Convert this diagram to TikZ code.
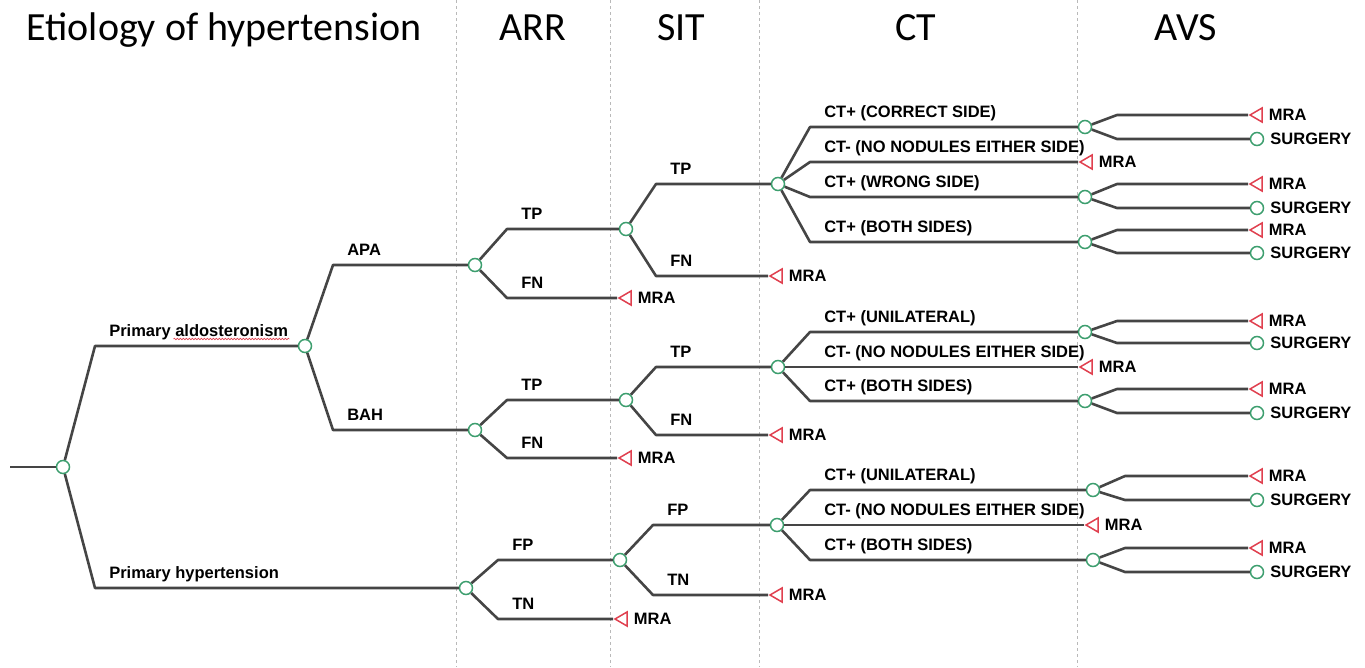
\documentclass[tikz,border=0pt]{standalone}
\usepackage{fontspec}
\setmainfont{Liberation Sans}
\newfontfamily\headfont{Carlito}
\usetikzlibrary{calc,positioning,shapes.geometric,decorations.pathmorphing}
\definecolor{branchgray}{HTML}{454545}
\definecolor{chancegreen}{HTML}{3C9E6E}
\definecolor{termred}{HTML}{E0404F}
\tikzset{
  chance/.style={
    circle,
    draw=chancegreen,
    fill=white,
    line width=1.5pt,
    minimum size=13pt,
    inner sep=0pt
  },
  endtri/.style={
    isosceles triangle,
    isosceles triangle stretches,
    shape border rotate=180,
    draw=termred,
    fill=white,
    line width=1.5pt,
    minimum width=14pt,
    minimum height=12pt,
    inner sep=0pt
  },
  branch/.style={
    draw=branchgray,
    line width=2.6pt,
    line join=round
  },
  lbl/.style={
    anchor=base west,
    inner sep=0pt,
    xshift=13pt,
    yshift=10pt,
    font=\bfseries\fontsize{16.5}{16.5}\selectfont
  },
  leaftext/.style={
    inner sep=0pt,
    font=\bfseries\fontsize{16.5}{16.5}\selectfont
  },
  coltitle/.style={
    anchor=base,
    inner sep=0pt,
    font=\headfont\fontsize{40}{40}\selectfont
  },
  colsep/.style={
    draw=gray!55,
    dashed,
    line width=0.8pt
  }
}

\begin{document}
\begin{tikzpicture}[x=1pt,y=-1pt]
  \useasboundingbox (0,0) rectangle (1365,667);

  % column separators and titles
  \foreach \x in {456,610,759,1077}
    \draw[colsep] (\x,0) -- (\x,667);
  \node[coltitle] (ttlhyp) at (224,40) {Etiology of hypertension};
  \node[coltitle] (ttlarr) at (533,40) {ARR};
  \node[coltitle] (ttlsit) at (681,40) {SIT};
  \node[coltitle] (ttlct) at (916,40) {CT};
  \node[coltitle] (ttlavs) at (1186,40) {AVS};

  % etiology
  \coordinate (start) at (10,467);
  \node[chance] (root) at (63,467) {};
  \node[chance] (pa) at (305,346) {};
  \node[chance] (ph) at (466,588) {};
  \node[chance] (apa) at (475,265) {};
  \node[chance] (bah) at (475,430) {};

  % ARR
  \node[chance] (apatp) at (626,229) {};
  \node[endtri] (apafn) at (627,298) {};
  \node[chance] (bahtp) at (626,400) {};
  \node[endtri] (bahfn) at (627,458) {};
  \node[chance] (phfp) at (620,560) {};
  \node[endtri] (phtn) at (623,619) {};

  % SIT
  \node[chance] (apact) at (778,184) {};
  \node[endtri] (apasitfn) at (778,276) {};
  \node[chance] (bahct) at (778,367) {};
  \node[endtri] (bahsitfn) at (778,435) {};
  \node[chance] (phct) at (777,525) {};
  \node[endtri] (phsittn) at (778,595) {};

  % CT
  \node[chance] (ca1) at (1085,127) {};
  \node[endtri] (ca2) at (1088,162) {};
  \node[chance] (ca3) at (1085,197) {};
  \node[chance] (ca4) at (1085,242) {};
  \node[chance] (cb1) at (1085,332) {};
  \node[endtri] (cb2) at (1088,367) {};
  \node[chance] (cb3) at (1085,401) {};
  \node[chance] (cc1) at (1093,490) {};
  \node[endtri] (cc2) at (1094,525) {};
  \node[chance] (cc3) at (1093,560) {};

  % AVS
  \node[endtri] (ca1m) at (1258,115) {};
  \node[chance] (ca1s) at (1257,139) {};
  \node[endtri] (ca3m) at (1258,184) {};
  \node[chance] (ca3s) at (1257,208) {};
  \node[endtri] (ca4m) at (1258,230) {};
  \node[chance] (ca4s) at (1257,253) {};
  \node[endtri] (cb1m) at (1258,321) {};
  \node[chance] (cb1s) at (1257,343) {};
  \node[endtri] (cb3m) at (1258,389) {};
  \node[chance] (cb3s) at (1257,413) {};
  \node[endtri] (cc1m) at (1258,476) {};
  \node[chance] (cc1s) at (1257,500) {};
  \node[endtri] (cc3m) at (1258,548) {};
  \node[chance] (cc3s) at (1257,572) {};

  % leaf texts
  \node[leaftext, right=6pt of apafn] (apafnt) {MRA};
  \node[leaftext, right=6pt of bahfn] (bahfnt) {MRA};
  \node[leaftext, right=6pt of phtn] (phtnt) {MRA};
  \node[leaftext, right=6pt of apasitfn] (apasitfnt) {MRA};
  \node[leaftext, right=6pt of bahsitfn] (bahsitfnt) {MRA};
  \node[leaftext, right=6pt of phsittn] (phsittnt) {MRA};
  \node[leaftext, right=6pt of ca2] (ca2t) {MRA};
  \node[leaftext, right=6pt of cb2] (cb2t) {MRA};
  \node[leaftext, right=6pt of cc2] (cc2t) {MRA};
  \node[leaftext, right=6pt of ca1m] (ca1mt) {MRA};
  \node[leaftext, right=6pt of ca1s] (ca1st) {SURGERY};
  \node[leaftext, right=6pt of ca3m] (ca3mt) {MRA};
  \node[leaftext, right=6pt of ca3s] (ca3st) {SURGERY};
  \node[leaftext, right=6pt of ca4m] (ca4mt) {MRA};
  \node[leaftext, right=6pt of ca4s] (ca4st) {SURGERY};
  \node[leaftext, right=6pt of cb1m] (cb1mt) {MRA};
  \node[leaftext, right=6pt of cb1s] (cb1st) {SURGERY};
  \node[leaftext, right=6pt of cb3m] (cb3mt) {MRA};
  \node[leaftext, right=6pt of cb3s] (cb3st) {SURGERY};
  \node[leaftext, right=6pt of cc1m] (cc1mt) {MRA};
  \node[leaftext, right=6pt of cc1s] (cc1st) {SURGERY};
  \node[leaftext, right=6pt of cc3m] (cc3mt) {MRA};
  \node[leaftext, right=6pt of cc3s] (cc3st) {SURGERY};

  % branches
  \draw[branch] (start) -- (root);
  \draw[branch] (root) -- ($(root|-pa)+(32,0)$) node[lbl] (palbl) {Primary aldosteronism} -- (pa);
  \draw[branch] (root) -- ($(root|-ph)+(32,0)$) node[lbl] (phlbl) {Primary hypertension} -- (ph);
  \draw[termred, line width=0.6pt, decorate, decoration={snake, amplitude=0.8pt, segment length=3pt}]
    ($(palbl.base east)+(-116,3)$) -- ($(palbl.base east)+(0,3)$);
  \draw[branch] (pa) -- ($(pa|-apa)+(28,0)$) node[lbl] {APA} -- (apa);
  \draw[branch] (pa) -- ($(pa|-bah)+(28,0)$) node[lbl] {BAH} -- (bah);

  \draw[branch] (apa) -- ($(apa|-apatp)+(32,0)$) node[lbl] {TP} -- (apatp);
  \draw[branch] (apa) -- ($(apa|-apafn)+(32,0)$) node[lbl] {FN} -- (apafn);
  \draw[branch] (bah) -- ($(bah|-bahtp)+(32,0)$) node[lbl] {TP} -- (bahtp);
  \draw[branch] (bah) -- ($(bah|-bahfn)+(32,0)$) node[lbl] {FN} -- (bahfn);
  \draw[branch] (ph) -- ($(ph|-phfp)+(32,0)$) node[lbl] {FP} -- (phfp);
  \draw[branch] (ph) -- ($(ph|-phtn)+(32,0)$) node[lbl] {TN} -- (phtn);

  \draw[branch] (apatp) -- ($(apatp|-apact)+(30,0)$) node[lbl] {TP} -- (apact);
  \draw[branch] (apatp) -- ($(apatp|-apasitfn)+(30,0)$) node[lbl] {FN} -- (apasitfn);
  \draw[branch] (bahtp) -- ($(bahtp|-bahct)+(30,0)$) node[lbl] {TP} -- (bahct);
  \draw[branch] (bahtp) -- ($(bahtp|-bahsitfn)+(30,0)$) node[lbl] {FN} -- (bahsitfn);
  \draw[branch] (phfp) -- ($(phfp|-phct)+(33,0)$) node[lbl] {FP} -- (phct);
  \draw[branch] (phfp) -- ($(phfp|-phsittn)+(33,0)$) node[lbl] {TN} -- (phsittn);

  \draw[branch] (apact) -- ($(apact|-ca1)+(32,0)$) node[lbl] {CT+ (CORRECT SIDE)} -- (ca1);
  \draw[branch] (apact) -- ($(apact|-ca2)+(32,0)$) node[lbl] {CT- (NO NODULES EITHER SIDE)} -- (ca2);
  \draw[branch] (apact) -- ($(apact|-ca3)+(32,0)$) node[lbl] {CT+ (WRONG SIDE)} -- (ca3);
  \draw[branch] (apact) -- ($(apact|-ca4)+(32,0)$) node[lbl] {CT+ (BOTH SIDES)} -- (ca4);
  \draw[branch] (bahct) -- ($(bahct|-cb1)+(32,0)$) node[lbl] {CT+ (UNILATERAL)} -- (cb1);
  \draw[branch] (bahct) -- ($(bahct|-cb2)+(32,0)$) node[lbl] {CT- (NO NODULES EITHER SIDE)} -- (cb2);
  \draw[branch] (bahct) -- ($(bahct|-cb3)+(32,0)$) node[lbl] {CT+ (BOTH SIDES)} -- (cb3);
  \draw[branch] (phct) -- ($(phct|-cc1)+(33,0)$) node[lbl] {CT+ (UNILATERAL)} -- (cc1);
  \draw[branch] (phct) -- ($(phct|-cc2)+(33,0)$) node[lbl] {CT- (NO NODULES EITHER SIDE)} -- (cc2);
  \draw[branch] (phct) -- ($(phct|-cc3)+(33,0)$) node[lbl] {CT+ (BOTH SIDES)} -- (cc3);

  \draw[branch] (ca1) -- ($(ca1|-ca1m)+(32,0)$) -- (ca1m);
  \draw[branch] (ca1) -- ($(ca1|-ca1s)+(32,0)$) -- (ca1s);
  \draw[branch] (ca3) -- ($(ca3|-ca3m)+(32,0)$) -- (ca3m);
  \draw[branch] (ca3) -- ($(ca3|-ca3s)+(32,0)$) -- (ca3s);
  \draw[branch] (ca4) -- ($(ca4|-ca4m)+(32,0)$) -- (ca4m);
  \draw[branch] (ca4) -- ($(ca4|-ca4s)+(32,0)$) -- (ca4s);
  \draw[branch] (cb1) -- ($(cb1|-cb1m)+(32,0)$) -- (cb1m);
  \draw[branch] (cb1) -- ($(cb1|-cb1s)+(32,0)$) -- (cb1s);
  \draw[branch] (cb3) -- ($(cb3|-cb3m)+(32,0)$) -- (cb3m);
  \draw[branch] (cb3) -- ($(cb3|-cb3s)+(32,0)$) -- (cb3s);
  \draw[branch] (cc1) -- ($(cc1|-cc1m)+(32,0)$) -- (cc1m);
  \draw[branch] (cc1) -- ($(cc1|-cc1s)+(32,0)$) -- (cc1s);
  \draw[branch] (cc3) -- ($(cc3|-cc3m)+(32,0)$) -- (cc3m);
  \draw[branch] (cc3) -- ($(cc3|-cc3s)+(32,0)$) -- (cc3s);
\end{tikzpicture}
\end{document}
